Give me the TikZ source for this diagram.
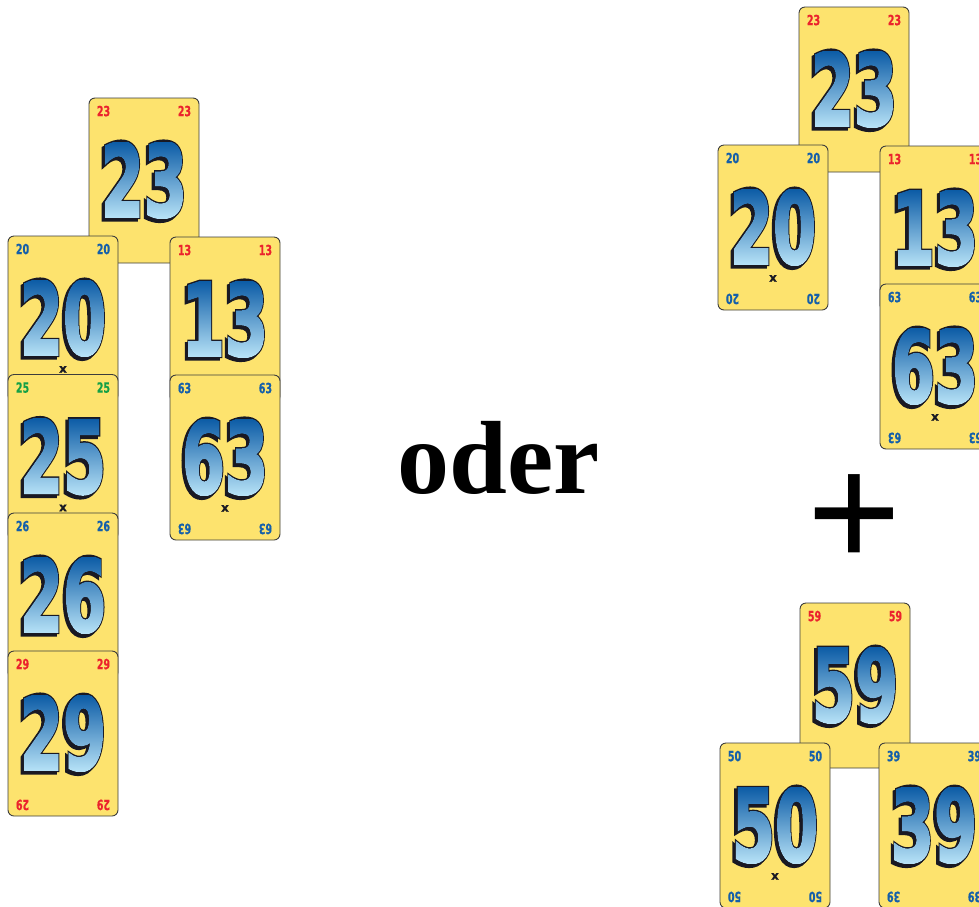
\documentclass[tikz,border=0pt]{standalone}
\usepackage{fontspec}
\setmainfont{Liberation Serif}
\newfontfamily\numfont{DejaVu Sans Bold}[FakeBold=3]
\newfontfamily\numedgefont{DejaVu Sans Bold}[FakeBold=5.5]
\newfontfamily\lblfont{DejaVu Sans Bold}[FakeBold=0.6]
\usetikzlibrary{fadings,calc}

\definecolor{cardfill}{RGB}{253,227,110}
\definecolor{cardline}{RGB}{60,60,60}
\definecolor{lblred}{RGB}{235,35,45}
\definecolor{lblblue}{RGB}{20,95,170}
\definecolor{lblgreen}{RGB}{20,160,70}
\definecolor{numtop}{RGB}{10,90,165}
\definecolor{numbot}{RGB}{185,228,248}
\definecolor{numedge}{RGB}{25,25,35}

\newcommand\bigdigits[1]{\scalebox{0.62}[1]{\numfont\fontsize{100}{100}\selectfont #1}}
\newcommand\edgedigits[1]{\scalebox{0.62}[1]{\numedgefont\fontsize{100}{100}\selectfont #1}}
\newcommand\smalldigits[1]{\scalebox{0.68}[1]{\lblfont\fontsize{14}{14}\selectfont #1}}

\tikzset{
  card/.style={draw=cardline, line width=0.9pt, fill=cardfill, rounded corners=6pt,
    minimum width=110pt, minimum height=165pt, inner sep=0pt},
  lbl/.style={inner sep=0pt},
  bignum/.style={inner sep=0pt, text=numedge},
  xmark/.style={inner sep=0pt, text=numedge, font=\lblfont\fontsize{12}{12}\selectfont},
  word/.style={inner sep=0pt, anchor=base, font=\bfseries\fontsize{104}{104}\selectfont},
  plussign/.style={inner sep=0pt, anchor=base, font=\bfseries\fontsize{168}{168}\selectfont},
}

% #1 name, #2 left x, #3 top y, #4 number, #5 label colour, #6 x mark (1/0), #7 bottom labels shown (1/0)
\newcommand\drawcard[7]{%
  \node[card] (#1) at (#2+55,#3+82.5) {};
  \node[lbl,text=#5] (#1tl) at ([xshift=15pt,yshift=-13.5pt]#1.north west) {\smalldigits{#4}};
  \node[lbl,text=#5] (#1tr) at ([xshift=-15pt,yshift=-13.5pt]#1.north east) {\smalldigits{#4}};
  \ifnum#7=1
    \node[lbl,text=#5,rotate=180] (#1bl) at ([xshift=15pt,yshift=11.5pt]#1.south west) {\smalldigits{#4}};
    \node[lbl,text=#5,rotate=180] (#1br) at ([xshift=-15pt,yshift=11.5pt]#1.south east) {\smalldigits{#4}};
  \fi
  \ifnum#6=1 \node[xmark] (#1x) at ([yshift=32pt]#1.south) {x};\fi
  \coordinate (#1c) at (#2+55,#3+82);
  \node[bignum] (#1sh) at ($(#1c)+(-2.5,2.5)$) {\edgedigits{#4}};
  \node[bignum] (#1ed) at (#1c) {\edgedigits{#4}};
  \path[top color=numtop, bottom color=numbot, path fading=fade#4, fit fading=false,
        fading transform={shift={(#1c)}}]
    ($(#1c)+(-50,-39)$) rectangle ($(#1c)+(50,39)$);
}

\begin{document}
\pgfdeclarefading{fade23}{\color{white}\bigdigits{23}}
\pgfdeclarefading{fade20}{\color{white}\bigdigits{20}}
\pgfdeclarefading{fade13}{\color{white}\bigdigits{13}}
\pgfdeclarefading{fade25}{\color{white}\bigdigits{25}}
\pgfdeclarefading{fade63}{\color{white}\bigdigits{63}}
\pgfdeclarefading{fade26}{\color{white}\bigdigits{26}}
\pgfdeclarefading{fade29}{\color{white}\bigdigits{29}}
\pgfdeclarefading{fade59}{\color{white}\bigdigits{59}}
\pgfdeclarefading{fade50}{\color{white}\bigdigits{50}}
\pgfdeclarefading{fade39}{\color{white}\bigdigits{39}}
\begin{tikzpicture}[x=1pt,y=-1pt]
  \useasboundingbox (0,0) rectangle (979,906);
  % left group
  \drawcard{La}{89}{98}{23}{lblred}{0}{0}
  \drawcard{Lb}{8}{236}{20}{lblblue}{1}{0}
  \drawcard{Lc}{170}{237}{13}{lblred}{0}{0}
  \drawcard{Ld}{8}{374.5}{25}{lblgreen}{1}{0}
  \drawcard{Le}{170}{375}{63}{lblblue}{1}{1}
  \drawcard{Lf}{8}{513}{26}{lblblue}{0}{0}
  \drawcard{Lg}{8}{651}{29}{lblred}{0}{1}
  % right upper group
  \drawcard{Ra}{799}{7}{23}{lblred}{0}{0}
  \drawcard{Rb}{718}{145}{20}{lblblue}{1}{1}
  \drawcard{Rc}{880}{146}{13}{lblred}{0}{0}
  \drawcard{Rd}{880}{284}{63}{lblblue}{1}{1}
  % right lower group
  \drawcard{Re}{800}{603}{59}{lblred}{0}{0}
  \drawcard{Rf}{720}{743}{50}{lblblue}{1}{1}
  \drawcard{Rg}{879}{743}{39}{lblblue}{0}{1}
  % texts
  \node[word] (oder) at (498.5,493) {oder};
  \node[plussign] (plus) at (854.5,569) {+};
\end{tikzpicture}
\end{document}
